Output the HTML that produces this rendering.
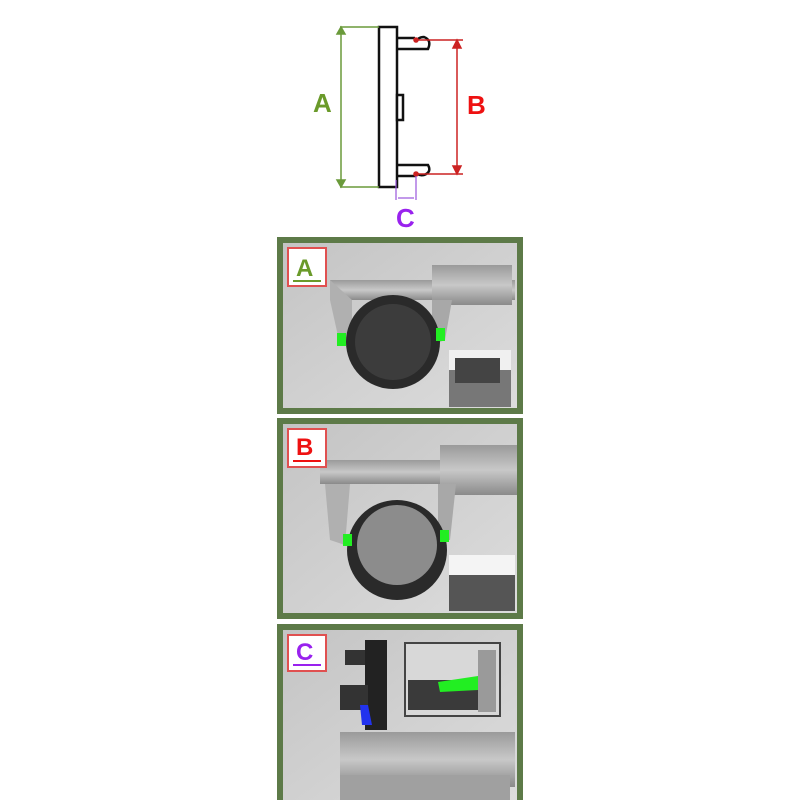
<!DOCTYPE html>
<html><head><style>body{margin:0;background:#fff}svg{display:block}</style></head><body>
<svg width="800" height="800" viewBox="0 0 800 800" xmlns="http://www.w3.org/2000/svg" font-family="Liberation Sans, sans-serif">
<defs>
<linearGradient id="bg" x1="0" y1="0" x2="1" y2="1"><stop offset="0" stop-color="#c4c4c4"/><stop offset="1" stop-color="#dcdcdc"/></linearGradient>
<linearGradient id="steel" x1="0" y1="0" x2="0" y2="1"><stop offset="0" stop-color="#9a9a9a"/><stop offset="0.5" stop-color="#c8c8c8"/><stop offset="1" stop-color="#8a8a8a"/></linearGradient>
</defs>
<!-- top diagram -->
<g fill="none" stroke="#111" stroke-width="2.5">
<rect x="379" y="27" width="18" height="160" fill="#fff"/>
<rect x="397" y="95" width="6" height="25" fill="#fff"/>
<path d="M397 49 H428 Q432 40 424 37 Q418 37 416 42 M397 38 H415"/>
<path d="M397 165 H428 Q432 172 424 175 Q418 176 416 172 M397 176 H416" />
</g>
<g stroke="#6a9a3a" stroke-width="1.5" fill="#6a9a3a">
<line x1="340" y1="27" x2="379" y2="27"/><line x1="340" y1="187" x2="379" y2="187"/>
<line x1="341" y1="30" x2="341" y2="184"/>
<path d="M337 34 L341 27 L345 34Z M337 180 L341 187 L345 180Z"/>
</g>
<text x="313" y="112" font-size="26" font-weight="bold" fill="#6a9a2a">A</text>
<g stroke="#cc2222" stroke-width="1.5" fill="#cc2222">
<line x1="416" y1="40" x2="463" y2="40"/><line x1="416" y1="174" x2="463" y2="174"/>
<line x1="457" y1="44" x2="457" y2="170"/>
<path d="M453 48 L457 40 L461 48Z M453 166 L457 174 L461 166Z"/>
<circle cx="416" cy="40" r="2"/><circle cx="416" cy="174" r="2"/>
</g>
<text x="467" y="114" font-size="26" font-weight="bold" fill="#ee1111">B</text>
<g stroke="#9955dd" stroke-width="1.2" fill="#9955dd">
<line x1="396" y1="180" x2="396" y2="200"/><line x1="416" y1="176" x2="416" y2="200"/>
<line x1="398" y1="198" x2="414" y2="198"/>
</g>
<text x="396" y="227" font-size="26" font-weight="bold" fill="#9922ee">C</text>

<!-- panel A -->
<rect x="277" y="237" width="246" height="177" fill="#5d7a48"/>
<rect x="283" y="243" width="234" height="165" fill="url(#bg)"/>
<rect x="330" y="280" width="185" height="20" fill="url(#steel)"/>
<rect x="432" y="265" width="80" height="40" fill="url(#steel)"/>
<path d="M330 280 L330 300 L340 345 L352 345 L352 300Z" fill="#b0b0b0"/>
<path d="M432 300 L432 345 L445 340 L452 300Z" fill="#a8a8a8"/>
<circle cx="393" cy="342" r="47" fill="#2a2a2a"/>
<circle cx="393" cy="342" r="38" fill="#3c3c3c"/>
<rect x="337" y="333" width="9" height="13" fill="#22ee22"/>
<rect x="436" y="328" width="9" height="13" fill="#22ee22"/>
<rect x="449" y="350" width="62" height="57" fill="#777"/>
<rect x="449" y="350" width="62" height="20" fill="#f0f0f0"/>
<rect x="455" y="358" width="45" height="25" fill="#444"/>
<rect x="288" y="248" width="38" height="38" fill="#fff" stroke="#e05050" stroke-width="2"/>
<text x="296" y="276" font-size="24" font-weight="bold" fill="#6a9a2a">A</text>
<line x1="293" y1="281" x2="321" y2="281" stroke="#6a9a2a" stroke-width="2"/>

<!-- panel B -->
<rect x="277" y="418" width="246" height="201" fill="#5d7a48"/>
<rect x="283" y="424" width="234" height="189" fill="url(#bg)"/>
<rect x="320" y="460" width="197" height="24" fill="url(#steel)"/>
<rect x="440" y="445" width="77" height="50" fill="url(#steel)"/>
<path d="M325 484 L330 540 L345 545 L350 484Z" fill="#b0b0b0"/>
<path d="M438 484 L438 540 L450 540 L456 484Z" fill="#a8a8a8"/>
<circle cx="397" cy="550" r="50" fill="#2a2a2a"/>
<circle cx="397" cy="545" r="40" fill="#8c8c8c"/>
<rect x="343" y="534" width="9" height="12" fill="#22ee22"/>
<rect x="440" y="530" width="9" height="12" fill="#22ee22"/>
<rect x="449" y="555" width="66" height="56" fill="#555"/>
<rect x="449" y="555" width="66" height="20" fill="#f4f4f4"/>
<rect x="288" y="429" width="38" height="38" fill="#fff" stroke="#e05050" stroke-width="2"/>
<text x="296" y="455" font-size="24" font-weight="bold" fill="#ee1111">B</text>
<line x1="293" y1="461" x2="321" y2="461" stroke="#ee1111" stroke-width="2"/>

<!-- panel C -->
<rect x="277" y="624" width="246" height="176" fill="#5d7a48"/>
<rect x="283" y="630" width="234" height="170" fill="url(#bg)"/>
<rect x="365" y="640" width="22" height="90" fill="#222"/>
<rect x="345" y="650" width="20" height="15" fill="#333"/>
<rect x="340" y="685" width="28" height="25" fill="#333"/>
<path d="M360 705 L368 705 L372 725 L362 725Z" fill="#2233ee"/>
<rect x="340" y="732" width="175" height="55" fill="url(#steel)"/>
<rect x="340" y="775" width="170" height="25" fill="#a0a0a0"/>
<rect x="405" y="643" width="95" height="73" fill="#d8d8d8" stroke="#444" stroke-width="2"/>
<rect x="408" y="680" width="70" height="30" fill="#3a3a3a"/>
<rect x="478" y="650" width="18" height="62" fill="#9a9a9a"/>
<path d="M438 682 L478 676 L478 690 L440 692Z" fill="#22ee22"/>
<rect x="288" y="635" width="38" height="36" fill="#fff" stroke="#e05050" stroke-width="2"/>
<text x="296" y="660" font-size="24" font-weight="bold" fill="#9922ee">C</text>
<line x1="293" y1="665" x2="321" y2="665" stroke="#9922ee" stroke-width="2"/>
</svg>
</body></html>
